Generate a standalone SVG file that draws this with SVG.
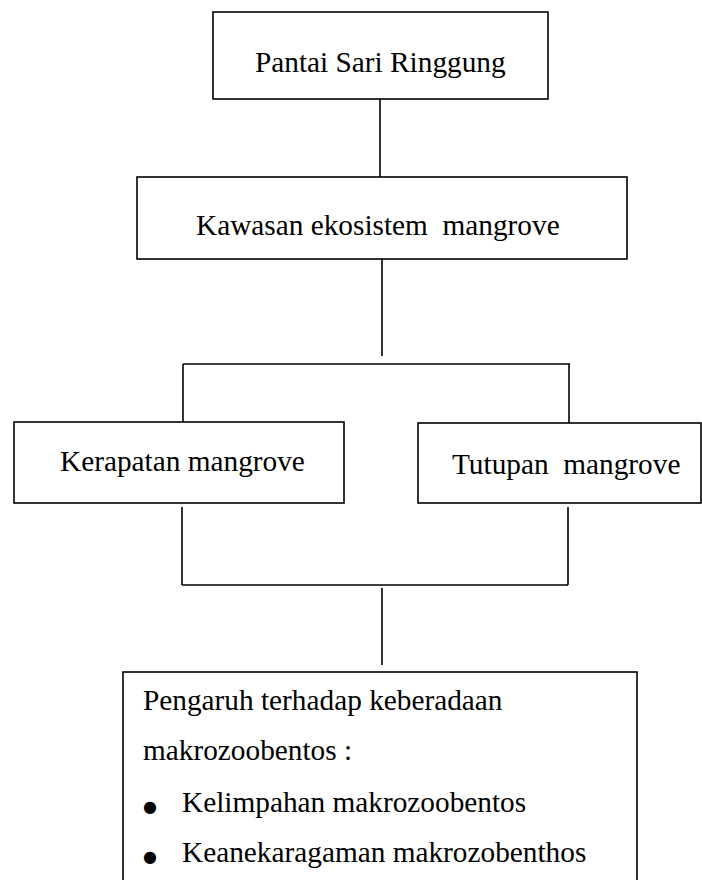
<svg xmlns="http://www.w3.org/2000/svg" width="702" height="880" viewBox="0 0 702 880">
<style>
.box{fill:#fff;stroke:#000;stroke-width:1.6}
.ln{stroke:#000;stroke-width:1.6;fill:none}
.t{font-family:'Liberation Serif','Times New Roman',serif;font-size:29.3px;fill:#000}
.b{font-family:'DejaVu Sans',sans-serif;font-size:16px;fill:#000}
</style>
<rect width="702" height="880" fill="#fff"/>
<g id="connectors">
<line class="ln" x1="380" y1="99" x2="380" y2="177"/>
<line class="ln" x1="382" y1="259" x2="382" y2="356"/>
<line class="ln" x1="183" y1="364" x2="570" y2="364"/>
<line class="ln" x1="183" y1="364" x2="183" y2="422"/>
<line class="ln" x1="569" y1="364" x2="569" y2="423"/>
<line class="ln" x1="182" y1="507" x2="182" y2="585"/>
<line class="ln" x1="568" y1="507" x2="568" y2="585"/>
<line class="ln" x1="182" y1="585" x2="568" y2="585"/>
<line class="ln" x1="382" y1="588" x2="382" y2="665"/>
</g>
<g id="pantai">
<rect class="box" x="213" y="12" width="335" height="87"/>
<text class="t" x="255" y="72">Pantai Sari Ringgung</text>
</g>
<g id="kawasan">
<rect class="box" x="137" y="177" width="490" height="82"/>
<text class="t" x="196" y="235" xml:space="preserve">Kawasan ekosistem  mangrove</text>
</g>
<g id="kerapatan">
<rect class="box" x="14" y="422" width="330" height="81"/>
<text class="t" x="60" y="471">Kerapatan mangrove</text>
</g>
<g id="tutupan">
<rect class="box" x="418" y="423" width="283" height="80"/>
<text class="t" x="452" y="474" xml:space="preserve">Tutupan  mangrove</text>
</g>
<g id="pengaruh">
<rect class="box" x="123" y="672" width="514" height="230"/>
<text class="t" x="143" y="710">Pengaruh terhadap keberadaan</text>
<text class="t" x="143" y="760">makrozoobentos :</text>
<text class="b" x="150" y="812" text-anchor="middle">●</text>
<text class="t" x="182" y="812">Kelimpahan makrozoobentos</text>
<text class="b" x="150" y="862" text-anchor="middle">●</text>
<text class="t" x="182" y="862">Keanekaragaman makrozobenthos</text>
</g>
</svg>
